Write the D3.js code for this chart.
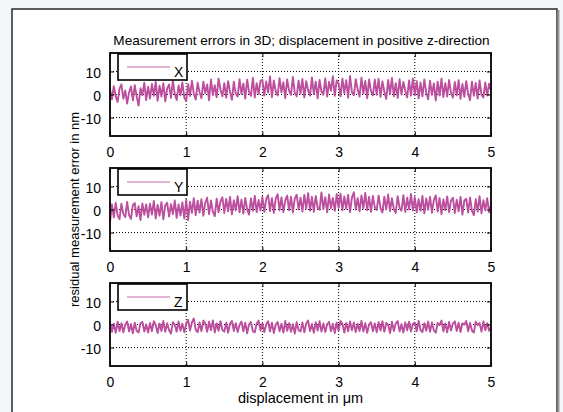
<!DOCTYPE html>
<html>
<head>
<meta charset="utf-8">
<script src="https://cdn.jsdelivr.net/npm/d3@7"></script>
<style>
  body { margin: 0; background: #f4f7f9; }
  svg { display: block; font-family: "Liberation Sans", Arial, sans-serif; }
</style>
</head>
<body>
<svg id="chart"></svg>
<script>
const w = 563;
const h = 412;

const title = "Measurement errors in 3D; displacement in positive z-direction";
const seriesNames = ["X", "Y", "Z"];
const xTicks = [0, 1, 2, 3, 4, 5];
const yTicks = [-10, 0, 10];
const step = 0.025; // displacement step in um

// residual error in nm, one value per step
const errX = [
  2.3, -2.1, 3.6, -0.8, -3.2, 2.5, 4.4, -1.9, 1.8, -3.9, 0.9, 3.5, -2.6, 4.0, -0.9, -4.8, 2.7, -0.3, 5.1, -2.4,
  3.4, -1.8, 4.6, -0.6, 5.5, -2.7, 3.8, -0.9, 4.9, -3.0, 2.6, 4.3, -1.5, 5.9, 0.2, -2.4, 3.9, -0.4, 5.2, -1.3,
  -2.8, 4.5, -0.7, 6.0, 0.3, -2.2, 5.1, 1.0, -1.6, 5.6, 0.6, 4.4, -2.5, 6.5, -0.3, 4.0, -1.2, 6.9, 2.1, -0.8,
  4.9, -1.4, 5.8, 1.2, -2.3, 5.6, 0.4, -0.9, 6.6, 0.3, 4.8, -1.8, 6.4, 1.1, -0.6, 7.2, -1.3, 4.9, 0.2, 5.9,
  6.4, -0.5, 5.7, 0.8, 7.8, -1.2, 6.1, 1.3, -0.4, 7.1, 0.9, 5.3, -1.6, 6.5, 1.7, -0.2, 7.6, 0.6, -0.8, 6.0,
  0.4, 6.7, -1.3, 5.8, 1.8, -0.5, 7.4, 0.2, 5.6, -1.7, 6.3, 1.4, -0.1, 7.0, -0.9, 5.5, 1.6, 7.9, -0.6, 6.1,
  4.9, -0.8, 6.9, 0.6, 6.2, -1.4, 8.0, 1.0, -0.3, 6.6, 2.2, -0.9, 7.3, 0.4, 5.9, -1.6, 6.5, 1.5, -0.4, 6.4,
  -0.1, 6.8, -1.0, 5.7, 1.2, -1.9, 6.3, 0.2, 7.2, -0.8, 4.9, -1.5, 6.6, 0.0, 5.4, 1.7, -1.3, 6.1, -0.5, 6.9,
  -0.3, 5.8, -1.7, 5.2, -0.8, 6.5, 0.9, -2.1, 6.0, -0.2, 4.8, -2.6, 5.6, -0.5, 6.9, -1.1, 4.9, -0.9, 6.3, 0.7,
  -1.4, 5.4, -0.4, 6.2, -1.9, 4.6, -1.0, 5.8, 0.5, -2.5, 5.6, -0.6, 5.0, -1.8, 6.1, -0.2, -1.3, 5.2, -0.5, 4.7, 1.9
];
const errY = [
  -5.5, 2.2, -3.4, 2.9, -2.6, -4.2, 2.5, -1.9, -3.3, 3.3, -2.4, -4.1, 1.9, 2.8, -3.0, 1.4, -4.6, 2.6, -2.3, 2.2,
  -3.4, 2.5, -2.2, 3.7, -3.9, 2.0, -2.7, 3.2, -4.3, 1.8, 2.9, -3.1, 2.3, -2.0, 3.9, -3.6, 2.2, -2.6, 3.1, -3.9,
  4.2, -4.6, 3.4, -1.5, 4.9, -2.4, 3.8, -1.3, 4.5, -2.7, 3.0, 5.1, -2.0, 3.9, -0.9, -2.9, 4.7, -1.2, 3.5, 5.3,
  -1.5, 4.6, -0.8, 5.5, -2.1, 4.0, -0.4, 5.8, -1.2, 4.3, -1.8, 5.0, 0.0, -2.2, 4.8, -0.6, 5.9, -1.1, 4.1, -0.5,
  5.4, -1.0, 4.5, 6.2, -0.7, 4.9, -1.5, 4.7, 6.6, -0.3, 5.2, -1.1, 4.0, 6.0, -0.4, 5.6, -1.3, 4.8, 6.4, 0.0,
  5.1, -0.9, 6.3, 0.4, 7.1, -0.5, 5.5, -1.0, 5.9, 0.8, -0.1, 7.4, 0.2, 5.3, -1.2, 6.5, 0.6, 5.0, -0.6, 6.7,
  0.7, 6.9, -0.4, 5.7, 0.3, 6.4, -1.1, 5.2, 7.5, 0.0, 4.9, -0.8, 6.1, 0.5, 7.2, -0.3, 5.5, -1.0, 5.9, 0.9,
  -0.2, 6.0, 0.6, -1.3, 5.6, 0.0, 6.5, -0.7, 4.9, 0.2, -1.5, 5.8, 0.8, -0.5, 6.2, -1.0, 5.1, 0.1, 6.7, -0.4,
  5.3, -1.2, 4.5, -0.6, 5.9, -1.7, 4.8, -0.1, 5.5, -1.4, 4.1, 6.1, -0.9, 5.0, -2.0, 4.4, -0.3, 5.7, -1.1, 3.9,
  5.1, -1.5, 4.3, -0.8, 5.5, -2.2, 3.8, 4.7, -1.3, 5.2, -0.6, -2.4, 4.5, -0.9, 5.8, -1.7, 4.0, -0.4, 4.9, -1.2, 1.8
];
const errZ = [
  0.9, -3.2, 0.4, -3.6, 1.2, -2.9, 0.6, -3.4, -0.1, 1.3, -3.0, 0.2, -3.8, 0.8, -2.7, -3.5, 0.5, 1.1, -3.1, 0.0,
  -3.5, 0.7, -2.9, 1.4, -0.2, -3.7, 0.5, -2.8, 1.5, -3.2, 0.6, -2.5, -3.9, 1.0, -0.1, -3.1, 1.3, -2.7, 0.4, -3.4,
  0.3, 2.1, -2.6, 0.9, 2.6, -2.3, -3.3, 0.9, -2.9, 1.7, 0.4, -3.2, 1.2, -2.5, 1.8, -3.5, 0.5, -2.7, 1.4, -2.4,
  -3.1, 0.8, -3.6, 0.3, 1.5, -2.8, 0.6, -3.3, -0.2, 1.3, -3.0, 0.8, -3.8, 0.1, 1.0, -2.9, -3.4, 0.4, 1.6, -2.6,
  0.5, -3.3, 0.0, 1.4, -3.1, 0.8, -3.7, -0.1, 1.1, -2.9, 0.3, -3.5, 1.5, -2.7, 0.6, -3.2, 0.1, -3.9, 1.0, -2.5,
  -3.0, 0.9, -3.4, 0.4, 1.7, -2.8, 0.2, -3.6, 1.0, -2.6, 1.4, -3.1, 0.5, -3.3, 0.1, 1.1, -2.9, 0.3, -3.7, 0.8,
  -2.7, 1.5, 0.2, -3.5, 0.7, -3.0, 1.3, -2.5, 0.9, -3.3, 0.3, -2.8, 1.6, -3.1, 0.6, -3.6, 0.0, 1.0, -2.9, 0.5,
  -3.4, 1.0, -2.6, 1.4, -3.2, 0.7, -0.2, -3.7, 1.2, -2.8, 0.5, 1.5, -3.0, 0.1, -3.5, 0.9, -2.5, 1.2, -3.1, 0.3,
  0.8, -2.9, 1.6, -2.4, -3.3, 0.6, -2.7, 1.3, -3.2, 0.9, -2.5, -3.6, 0.7, -0.3, 1.7, -3.0, 0.5, -3.4, 1.1, -2.6,
  0.4, 1.4, -2.8, 0.8, -3.3, 0.5, -0.1, 1.5, -3.0, 0.7, -2.6, -3.5, 1.2, -0.2, 0.6, -3.1, 1.3, -2.5, 0.6, -2.7, -1.0
];

const allErr = [errX, errY, errZ];
const lineColor = "#bd4f9f";

const svg = d3.select("#chart").attr("width", w).attr("height", h);

// figure window
svg.append("rect")
   .attr("x", 12).attr("y", 9)
   .attr("width", 545).attr("height", 420)
   .attr("fill", "#fff")
   .attr("stroke", "#2a2a2a")
   .attr("stroke-width", 1.5);
svg.append("line")
   .attr("x1", 558.5).attr("x2", 558.5).attr("y1", 10).attr("y2", h)
   .attr("stroke", "#999").attr("stroke-width", 2);

const left = 110, right = 491;
const tops = [53, 168, 283];
const ph = 83;

const x = d3.scaleLinear().domain([0, 5]).range([left, right]);

svg.append("text")
   .attr("x", (left + right) / 2 + 1).attr("y", 45)
   .attr("text-anchor", "middle")
   .attr("font-size", 13.6)
   .text(title);

tops.forEach((top, k) => {
  const y = d3.scaleLinear().domain([-18, 18]).range([top + ph, top]);
  const g = svg.append("g");

  // grid
  g.selectAll(".vg").data(xTicks.slice(1, -1)).enter().append("line")
   .attr("x1", d => x(d)).attr("x2", d => x(d))
   .attr("y1", top).attr("y2", top + ph)
   .attr("stroke", "#000").attr("stroke-width", 1).attr("stroke-dasharray", "1,2");
  g.selectAll(".hg").data(yTicks).enter().append("line")
   .attr("x1", left).attr("x2", right)
   .attr("y1", d => y(d)).attr("y2", d => y(d))
   .attr("stroke", "#000").attr("stroke-width", 1).attr("stroke-dasharray", "1,2");

  // data
  const pts = allErr[k].map((v, i) => [i * step, v]);
  g.append("path")
   .datum(pts)
   .attr("fill", "none")
   .attr("stroke", lineColor)
   .attr("stroke-width", 1.9)
   .attr("stroke-linejoin", "round")
   .attr("d", d3.line().x(d => x(d[0])).y(d => y(d[1])));

  // axes: ticks inside, like matlab
  const fmt = d => String(d);
  const xb = g.append("g").attr("transform", `translate(0,${top + ph})`)
    .call(d3.axisBottom(x).tickValues(xTicks).tickFormat(fmt).tickSizeInner(-4).tickSizeOuter(0).tickPadding(11));
  const xt = g.append("g").attr("transform", `translate(0,${top})`)
    .call(d3.axisTop(x).tickValues(xTicks).tickSizeInner(-4).tickSizeOuter(0).tickFormat(""));
  const yl = g.append("g").attr("transform", `translate(${left},0)`)
    .call(d3.axisLeft(y).tickValues(yTicks).tickFormat(fmt).tickSizeInner(-4).tickSizeOuter(0).tickPadding(9));
  const yr = g.append("g").attr("transform", `translate(${right},0)`)
    .call(d3.axisRight(y).tickValues(yTicks).tickSizeInner(-4).tickSizeOuter(0).tickFormat(""));
  [xb, xt, yl, yr].forEach(a => {
    a.select(".domain").remove();
    a.selectAll("line").attr("stroke", "#000");
    a.selectAll("text").attr("font-size", 14).attr("fill", "#000")
     .attr("font-family", "'Liberation Sans', Arial, sans-serif");
  });
  yl.selectAll("text").attr("dy", "0.45em");

  g.append("rect")
   .attr("x", left).attr("y", top).attr("width", right - left).attr("height", ph)
   .attr("fill", "none").attr("stroke", "#000").attr("stroke-width", 1.8);

  // legend
  const lg = g.append("g");
  lg.append("rect")
    .attr("x", 118).attr("y", top + 1).attr("width", 69).attr("height", 26)
    .attr("fill", "#fff").attr("stroke", "#000").attr("stroke-width", 1.6);
  lg.append("line")
    .attr("x1", 127).attr("x2", 170).attr("y1", top + 14).attr("y2", top + 14)
    .attr("stroke", "#c46aad").attr("stroke-width", 1);
  lg.append("text")
    .attr("x", 174).attr("y", top + 24)
    .attr("font-size", 14)
    .text(seriesNames[k]);
});

svg.append("text")
   .attr("x", (left + right) / 2).attr("y", 403)
   .attr("text-anchor", "middle")
   .attr("font-size", 14.5)
   .text("displacement in μm");

svg.append("text")
   .attr("transform", `translate(79,${(tops[0] + tops[2] + ph) / 2}) rotate(-90)`)
   .attr("text-anchor", "middle")
   .attr("font-size", 13)
   .text("residual measurement error in nm");
</script>
</body>
</html>
